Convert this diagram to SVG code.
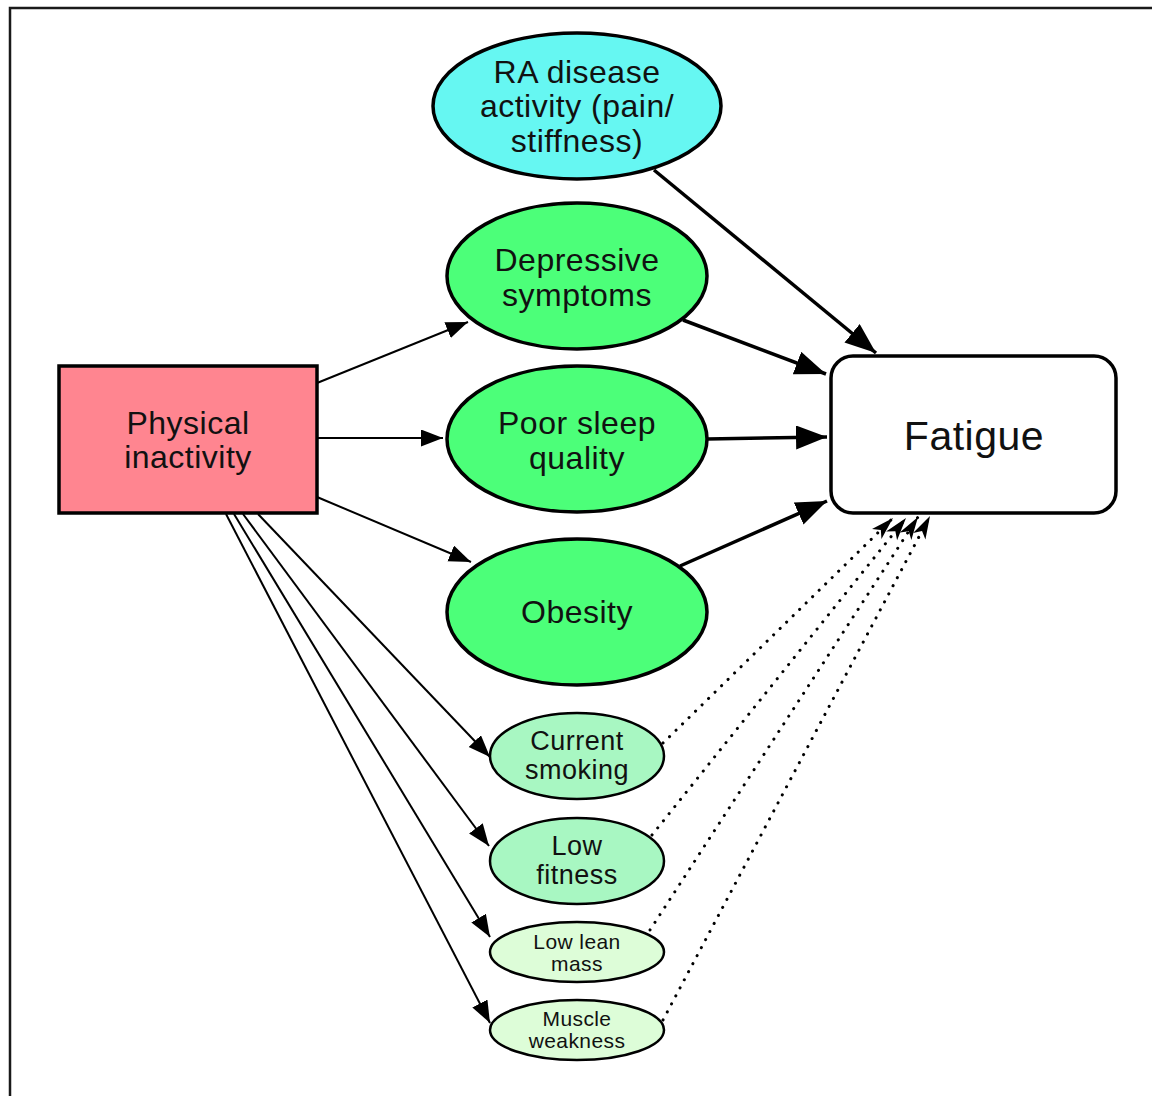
<svg xmlns="http://www.w3.org/2000/svg" width="1152" height="1096" viewBox="0 0 1152 1096">
<style>
text{font-family:"Liberation Sans",Arial,sans-serif;fill:#111;text-anchor:middle}
.big{font-size:32px;letter-spacing:0.5px}
.mid{font-size:27px;letter-spacing:0.5px}
.sm{font-size:21px;letter-spacing:0.4px}
.node{stroke:#000;stroke-width:3.5}
.small{stroke:#000;stroke-width:2.5}
.thin{stroke:#000;stroke-width:2;fill:none;marker-end:url(#ah)}
.thick{stroke:#000;stroke-width:3.5;fill:none;marker-end:url(#ahb)}
.dot{stroke:#000;stroke-width:3;fill:none;stroke-dasharray:0.1 9;stroke-linecap:round;marker-end:url(#ahd)}
</style>
<defs>
<marker id="ah" markerUnits="userSpaceOnUse" markerWidth="24" markerHeight="18" refX="22" refY="8.5" orient="auto">
<path d="M0,0 L22,8.5 L0,17 Z" fill="#000"/>
</marker>
<marker id="ahb" markerUnits="userSpaceOnUse" markerWidth="34" markerHeight="26" refX="31" refY="12" orient="auto">
<path d="M0,0 L31,12 L0,24 Z" fill="#000"/>
</marker>
<marker id="ahd" markerUnits="userSpaceOnUse" markerWidth="26" markerHeight="16" refX="23" refY="7" orient="auto">
<path d="M0,0 L23,7 L0,14 L6,7 Z" fill="#000"/>
</marker>
</defs>
<rect x="0" y="0" width="1152" height="1096" fill="#fff"/>
<rect x="10" y="8" width="1160" height="1110" fill="none" stroke="#1a1a1a" stroke-width="2.5"/>

<g id="connectors">
<path class="thin" d="M317,383 L468,322"/>
<path class="thin" d="M317,438 L443,438"/>
<path class="thin" d="M317,497 L471,562"/>
<path class="thin" d="M258,514 L490,757"/>
<path class="thin" d="M243,514 L489,846"/>
<path class="thin" d="M234,514 L490,937"/>
<path class="thin" d="M226,514 L490,1023"/>
<path class="thick" d="M654,170 L876,353"/>
<path class="thick" d="M683,320 L826,374"/>
<path class="thick" d="M707,439 L827,437"/>
<path class="thick" d="M680,566 L827,501"/>
<path class="dot" d="M663,743 L893,518"/>
<path class="dot" d="M652,835 L906,518"/>
<path class="dot" d="M650,930 L918,517"/>
<path class="dot" d="M663,1020 L930,516"/>
</g>

<g id="ra">
<ellipse class="node" cx="577" cy="106" rx="144" ry="73" fill="#66f7f2"/>
<text class="big" x="577" y="83">RA disease</text>
<text class="big" x="577" y="117">activity (pain/</text>
<text class="big" x="577" y="152">stiffness)</text>
</g>
<g id="depressive">
<ellipse class="node" cx="577" cy="276" rx="130" ry="73" fill="#4cff79"/>
<text class="big" x="577" y="271">Depressive</text>
<text class="big" x="577" y="306">symptoms</text>
</g>
<g id="sleep">
<ellipse class="node" cx="577" cy="439" rx="130" ry="73" fill="#4cff79"/>
<text class="big" x="577" y="434">Poor sleep</text>
<text class="big" x="577" y="469">quality</text>
</g>
<g id="obesity">
<ellipse class="node" cx="577" cy="612" rx="130" ry="73" fill="#4cff79"/>
<text class="big" x="577" y="623">Obesity</text>
</g>
<g id="physical">
<rect class="node" x="59" y="366" width="258" height="147" fill="#ff8590"/>
<text class="big" x="188" y="434">Physical</text>
<text class="big" x="188" y="468">inactivity</text>
</g>
<g id="fatigue">
<rect x="831" y="356" width="285" height="157" rx="22" fill="#fff" stroke="#000" stroke-width="3.5"/>
<text x="974" y="450" style="font-size:41px;letter-spacing:0.5px">Fatigue</text>
</g>
<g id="smoking">
<ellipse class="small" cx="577" cy="756" rx="87" ry="43" fill="#a8f7c2"/>
<text class="mid" x="577" y="750">Current</text>
<text class="mid" x="577" y="779">smoking</text>
</g>
<g id="fitness">
<ellipse class="small" cx="577" cy="861" rx="87" ry="43" fill="#a8f7c2"/>
<text class="mid" x="577" y="855">Low</text>
<text class="mid" x="577" y="884">fitness</text>
</g>
<g id="lean">
<ellipse class="small" cx="577" cy="952" rx="87" ry="30" fill="#ddfdd8"/>
<text class="sm" x="577" y="949">Low lean</text>
<text class="sm" x="577" y="971">mass</text>
</g>
<g id="muscle">
<ellipse class="small" cx="577" cy="1030" rx="87" ry="30" fill="#ddfdd8"/>
<text class="sm" x="577" y="1026">Muscle</text>
<text class="sm" x="577" y="1048">weakness</text>
</g>
</svg>
